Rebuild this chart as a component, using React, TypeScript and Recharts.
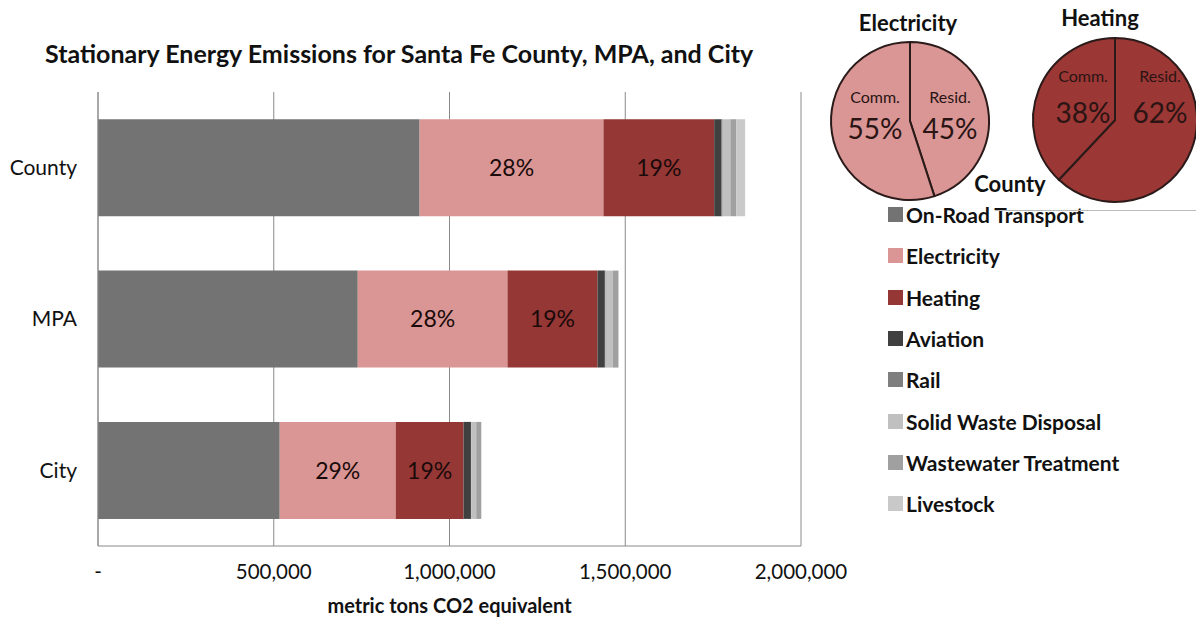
import { BarChart, Bar, XAxis, YAxis, CartesianGrid, Legend, LabelList, PieChart, Pie, Cell } from 'recharts';

const areas = ['County', 'MPA', 'City'];
const onRoad = [915000, 739000, 517000];
const electricity = [523000, 426000, 330000];
const heating = [315000, 256000, 193000];
const aviation = [21000, 21000, 21000];
const rail = [3000, 2000, 1000];
const solidWaste = [22000, 20000, 14000];
const wastewater = [17000, 16000, 14000];
const livestock = [25000, 2000, 1000];
const elecPct = [28, 28, 29];
const heatPct = [19, 19, 19];
const xTicks = [0, 500000, 1000000, 1500000, 2000000];

const elecSplit = [
  { name: 'Resid.', value: 45 },
  { name: 'Comm.', value: 55 },
];
const heatSplit = [
  { name: 'Resid.', value: 62 },
  { name: 'Comm.', value: 38 },
];

const series = [
  { key: 'onRoad', name: 'On-Road Transport', color: '#737373' },
  { key: 'electricity', name: 'Electricity', color: '#d99694' },
  { key: 'heating', name: 'Heating', color: '#953735' },
  { key: 'aviation', name: 'Aviation', color: '#404040' },
  { key: 'rail', name: 'Rail', color: '#7f7f7f' },
  { key: 'solidWaste', name: 'Solid Waste Disposal', color: '#c0c0c0' },
  { key: 'wastewater', name: 'Wastewater Treatment', color: '#a0a0a0' },
  { key: 'livestock', name: 'Livestock', color: '#c9c9c9' },
];

const data = areas.map((name, i) => ({
  name,
  onRoad: onRoad[i],
  electricity: electricity[i],
  heating: heating[i],
  aviation: aviation[i],
  rail: rail[i],
  solidWaste: solidWaste[i],
  wastewater: wastewater[i],
  livestock: livestock[i],
  elecPct: elecPct[i],
  heatPct: heatPct[i],
}));

const FONT = 'Lato, "Open Sans", sans-serif';

const fmtTick = (v: number) => (v === 0 ? '-' : v.toLocaleString('en-US'));

function LegendList() {
  return (
    <div style={{ fontFamily: FONT, fontWeight: 700, fontSize: 21, color: '#111' }}>
      {series.map((s) => (
        <div key={s.key} style={{ display: 'flex', alignItems: 'center', height: 41.3 }}>
          <span style={{ width: 15, height: 15, background: s.color, marginRight: 3 }} />
          <span>{s.name}</span>
        </div>
      ))}
    </div>
  );
}

function SplitPie({ values, fill, r, dxL, dxR, ySmall, yBig }: any) {
  const renderLabel = (p: any) => {
    const side = Math.cos((p.midAngle * Math.PI) / 180) >= 0 ? 1 : -1;
    const x = p.cx + (side > 0 ? dxR : dxL);
    return (
      <g>
        <text x={x} y={p.cy + ySmall} textAnchor="middle" dominantBaseline="central" fontFamily={FONT} fontSize={16} fill="#2a1414">
          {p.name}
        </text>
        <text x={x} y={p.cy + yBig} textAnchor="middle" dominantBaseline="central" fontFamily={FONT} fontSize={28} fill="#2a1414">
          {p.value}%
        </text>
      </g>
    );
  };
  return (
    <PieChart width={200} height={200}>
      <Pie
        data={values}
        dataKey="value"
        nameKey="name"
        cx={100}
        cy={100}
        outerRadius={r}
        startAngle={90}
        endAngle={-270}
        stroke="#2b1a1a"
        strokeWidth={2}
        label={renderLabel}
        labelLine={false}
        isAnimationActive={false}
      >
        {values.map((v: any) => (
          <Cell key={v.name} fill={fill} />
        ))}
      </Pie>
    </PieChart>
  );
}

export default function App() {
  return (
    <div style={{ position: 'absolute', left: 0, top: 0, width: 1196, height: 619, overflow: 'hidden', background: '#fff', fontFamily: FONT }}>
      <div style={{ position: 'absolute', left: 45, top: 38, fontSize: 25, fontWeight: 700, color: '#111', whiteSpace: 'nowrap' }}>
        Stationary Energy Emissions for Santa Fe County, MPA, and City
      </div>
      <BarChart
        width={1196}
        height={619}
        data={data}
        layout="vertical"
        margin={{ top: 92, right: 395, left: 0, bottom: 0 }}
        barCategoryGap="18%"
      >
        <CartesianGrid horizontal={false} stroke="#8a8a8a" />
        <XAxis
          type="number"
          domain={[0, 2000000]}
          ticks={xTicks}
          tickFormatter={fmtTick}
          height={73}
          stroke="#8a8a8a"
          tickLine={false}
          tickSize={6}
          tickMargin={12}
          tick={{ fill: '#111', fontSize: 20.5, fontFamily: FONT }}
          label={{ value: 'metric tons CO2 equivalent', position: 'insideBottom', offset: 6, fill: '#111', fontSize: 20, fontWeight: 700, fontFamily: FONT }}
        />
        <YAxis
          type="category"
          dataKey="name"
          width={98}
          stroke="#8a8a8a"
          tickLine={false}
          tickSize={6}
          tickMargin={15}
          tick={{ fill: '#111', fontSize: 21, fontFamily: FONT }}
        />
        <Legend
          layout="vertical"
          align="center"
          verticalAlign="middle"
          wrapperStyle={{ left: 888, top: 194, width: 308 }}
          content={() => <LegendList />}
        />
        {series.map((s) => (
          <Bar key={s.key} dataKey={s.key} name={s.name} stackId="a" fill={s.color} isAnimationActive={false}>
            {s.key === 'electricity' && (
              <LabelList dataKey="elecPct" position="center" formatter={(v: any) => `${v}%`} fill="#1a0a0a" fontSize={23} fontFamily={FONT} />
            )}
            {s.key === 'heating' && (
              <LabelList dataKey="heatPct" position="center" formatter={(v: any) => `${v}%`} fill="#1a0a0a" fontSize={23} fontFamily={FONT} />
            )}
          </Bar>
        ))}
      </BarChart>
      <div style={{ position: 'absolute', left: 995, top: 210, width: 201, height: 1, background: '#bbb' }} />
      <div style={{ position: 'absolute', left: 805, top: 16 }}>
        <SplitPie values={elecSplit} fill="#d99694" r={79} dxL={-35} dxR={40} ySmall={-25} yBig={7} />
      </div>
      <div style={{ position: 'absolute', left: 1010, top: 15 }}>
        <SplitPie values={heatSplit} fill="#9b3734" r={82} dxL={-32} dxR={45} ySmall={-45} yBig={-8} />
      </div>
      <div style={{ position: 'absolute', left: 908, top: 22, transform: 'translate(-50%, -50%)', fontSize: 22, fontWeight: 700, color: '#111' }}>Electricity</div>
      <div style={{ position: 'absolute', left: 1100, top: 17, transform: 'translate(-50%, -50%)', fontSize: 22, fontWeight: 700, color: '#111' }}>Heating</div>
      <div style={{ position: 'absolute', left: 1010, top: 183, transform: 'translate(-50%, -50%)', fontSize: 22, fontWeight: 700, color: '#111' }}>County</div>
    </div>
  );
}
